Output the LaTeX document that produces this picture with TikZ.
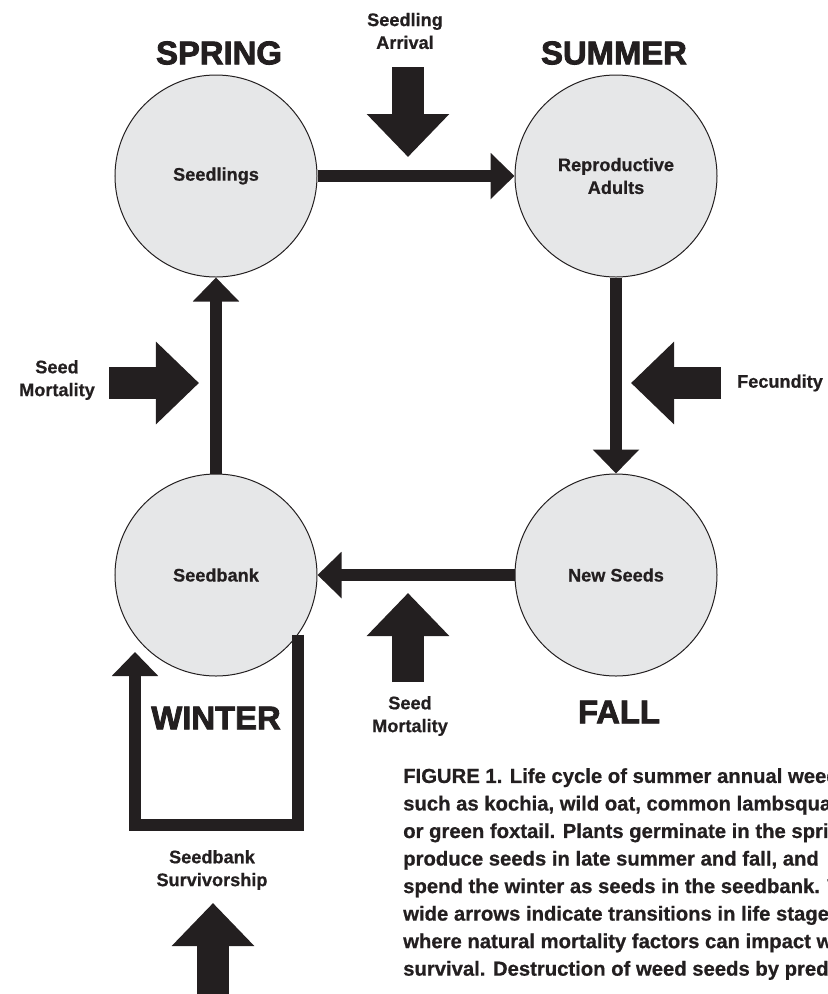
\documentclass[tikz,border=0pt]{standalone}
\usepackage{fontspec}
\setmainfont[BoldFeatures={FakeBold=0.7}]{Liberation Sans}
\newfontfamily\heavyfont[FakeBold=2.6]{Liberation Sans Bold}
\usetikzlibrary{arrows.meta}
\definecolor{ink}{HTML}{231F20}
\definecolor{disc}{HTML}{E6E7E8}
\tikzset{
  stage/.style={circle, draw=ink, fill=disc, line width=0.85pt, minimum size=6.06cm,
    inner sep=0pt, align=center, text=ink, font=\bfseries\fontsize{15.5}{19.5}\selectfont},
  link/.style={draw=ink, line width=0.36cm, -{Triangle[length=0.72cm,width=1.35cm]}},
  bigarrow/.style={draw=ink, line width=0.96cm, -{Triangle[length=1.29cm,width=2.4cm]}},
  factor/.style={align=center, text=ink, font=\bfseries\fontsize{15.5}{19.5}\selectfont},
  season/.style={text=ink, inner sep=0pt, font=\heavyfont\fontsize{28}{30}\selectfont},
}
\begin{document}
\begin{tikzpicture}[x=0.03cm, y=-0.03cm]
  \useasboundingbox (0,0) rectangle (827,994);

  % life stages
  \node[stage] (seedlings) at (216,176) {Seedlings};
  \node[stage] (adults) at (616,176) {Reproductive\\Adults};
  \node[stage] (newseeds) at (616,575) {New Seeds};
  \node[stage] (seedbank) at (216,575) {Seedbank};

  % seasons
  \node[season] (spring) at (219,53) {SPRING};
  \node[season] (summer) at (614,53) {SUMMER};
  \node[season] (fall) at (619,712) {FALL};
  \node[season] (winter) at (216,718) {WINTER};

  % transitions
  \draw[link] (seedlings) -- (adults);
  \draw[link] (adults) -- (newseeds);
  \draw[link] (newseeds) -- (seedbank);
  \draw[link] (seedbank) -- (seedlings);
  \coordinate (looptip) at (135,652);
  \draw[link] (seedbank.-36) -- ++(0,190) -| (looptip);

  % factors
  \node[factor] (arrival) at (405,31) {Seedling\\Arrival};
  \coordinate (arrivalfrom) at (408,67);
  \coordinate (arrivalto) at (408,157);
  \draw[bigarrow] (arrivalfrom) -- (arrivalto);

  \node[factor] (springloss) at (57,380) {Seed\\Mortality};
  \coordinate (springfrom) at (109,383);
  \coordinate (springto) at (199,383);
  \draw[bigarrow] (springfrom) -- (springto);

  \node[factor] (fecundity) at (780,383) {Fecundity};
  \coordinate (fecundfrom) at (721,383);
  \coordinate (fecundto) at (631,383);
  \draw[bigarrow] (fecundfrom) -- (fecundto);

  \node[factor] (fallloss) at (410,716) {Seed\\Mortality};
  \coordinate (fallfrom) at (408,682);
  \coordinate (fallto) at (408,593);
  \draw[bigarrow] (fallfrom) -- (fallto);

  \node[factor] (survivor) at (212,870) {Seedbank\\Survivorship};
  \coordinate (survivefrom) at (213,1000);
  \coordinate (surviveto) at (213,903);
  \draw[bigarrow] (survivefrom) -- (surviveto);

  % caption
  \node[anchor=north west, inner sep=0pt, align=left, text=ink,
    font=\bfseries\fontsize{17.3}{23.5}\selectfont] (caption) at (403,768)
    {FIGURE 1. Life cycle of summer annual weeds\\
     such as kochia, wild oat, common lambsquarters\\
     or green foxtail. Plants germinate in the spring,\\
     produce seeds in late summer and fall, and\\
     spend the winter as seeds in the seedbank. The\\
     wide arrows indicate transitions in life stages\\
     where natural mortality factors can impact weed\\
     survival. Destruction of weed seeds by predators};
\end{tikzpicture}
\end{document}
